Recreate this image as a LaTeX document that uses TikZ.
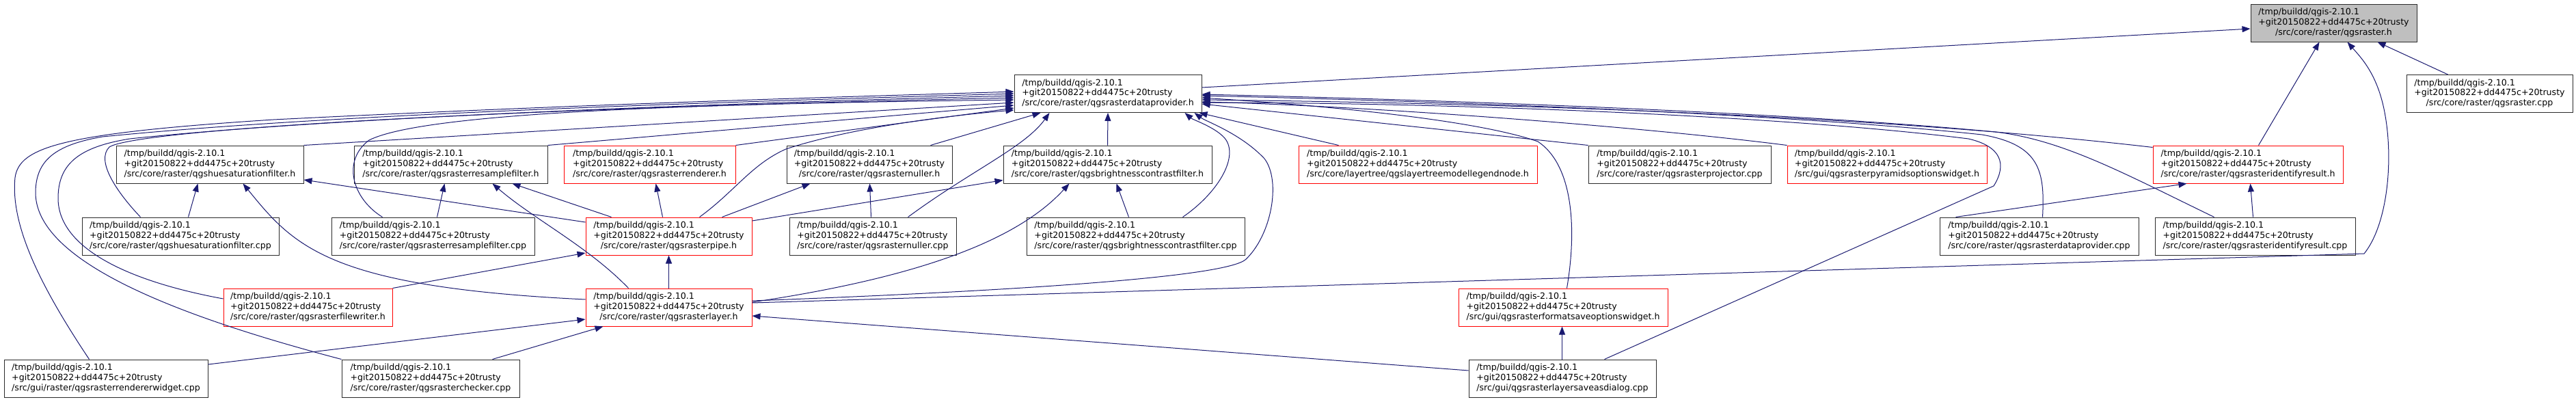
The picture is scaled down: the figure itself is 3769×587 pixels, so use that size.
\documentclass[tikz,border=0pt]{standalone}
\usepackage{fontspec}
\setmainfont{DejaVu Sans}
\usetikzlibrary{arrows.meta}
\definecolor{edgec}{HTML}{191970}
\definecolor{grayfill}{HTML}{BFBFBF}
\definecolor{boxline}{HTML}{2B2B2B}
\newcommand\lbl[1]{\begin{tabular}{@{}l@{}}/tmp/buildd/qgis-2.10.1\\+git20150822+dd4475c+20trusty\\\multicolumn{1}{@{}c@{}}{#1}\end{tabular}}
\tikzset{
  fbox/.style={draw=boxline, line width=1pt, minimum height=55pt, inner sep=0pt, fill=white, font=\fontsize{12.6pt}{14.6pt}\selectfont},
  rbox/.style={fbox, draw=red},
  gbox/.style={fbox, fill=grayfill},
  edge/.style={draw=edgec, line width=1pt, -{Triangle[length=12pt,width=9pt]}}
}
\begin{document}
\begin{tikzpicture}[x=1pt,y=-1pt]
\useasboundingbox (0,0) rectangle (3769,587);
% row A
\node[gbox, minimum width=243pt] (raster_h) at (3414.5,33.5) {\lbl{/src/core/raster/qgsraster.h}};
% row B
\node[fbox, minimum width=243pt] (rcpp) at (3642.5,137) {\lbl{/src/core/raster/qgsraster.cpp}};
\node[fbox, minimum width=274pt] (dp_h) at (1621,137) {\lbl{/src/core/raster/qgsrasterdataprovider.h}};
% row C
\node[fbox, minimum width=274pt] (hue_h) at (307,240.5) {\lbl{/src/core/raster/qgshuesaturationfilter.h}};
\node[fbox, minimum width=283pt] (resample_h) at (659.5,240.5) {\lbl{/src/core/raster/qgsrasterresamplefilter.h}};
\node[rbox, minimum width=251pt] (renderer_h) at (950.5,240.5) {\lbl{/src/core/raster/qgsrasterrenderer.h}};
\node[fbox, minimum width=242pt] (nuller_h) at (1272,240.5) {\lbl{/src/core/raster/qgsrasternuller.h}};
\node[fbox, minimum width=305pt] (bc_h) at (1620.5,240.5) {\lbl{/src/core/raster/qgsbrightnesscontrastfilter.h}};
\node[rbox, minimum width=349pt] (ltm_h) at (2074.5,240.5) {\lbl{/src/core/layertree/qgslayertreemodellegendnode.h}};
\node[fbox, minimum width=267pt] (proj_cpp) at (2457.5,240.5) {\lbl{/src/core/raster/qgsrasterprojector.cpp}};
\node[rbox, minimum width=292pt] (pyr_h) at (2761,240.5) {\lbl{/src/gui/qgsrasterpyramidsoptionswidget.h}};
\node[rbox, minimum width=278pt] (idr_h) at (3289,240.5) {\lbl{/src/core/raster/qgsrasteridentifyresult.h}};
% row D
\node[fbox, minimum width=288pt] (hue_cpp) at (264,345.5) {\lbl{/src/core/raster/qgshuesaturationfilter.cpp}};
\node[fbox, minimum width=297pt] (res_cpp) at (633.5,345.5) {\lbl{/src/core/raster/qgsrasterresamplefilter.cpp}};
\node[rbox, minimum width=243pt] (pipe_h) at (978.5,345.5) {\lbl{/src/core/raster/qgsrasterpipe.h}};
\node[fbox, minimum width=244pt] (nuller_cpp) at (1277,345.5) {\lbl{/src/core/raster/qgsrasternuller.cpp}};
\node[fbox, minimum width=319pt] (bc_cpp) at (1661.5,345.5) {\lbl{/src/core/raster/qgsbrightnesscontrastfilter.cpp}};
\node[fbox, minimum width=291pt] (dp_cpp) at (2983.5,345.5) {\lbl{/src/core/raster/qgsrasterdataprovider.cpp}};
\node[fbox, minimum width=293pt] (idr_cpp) at (3299.5,345.5) {\lbl{/src/core/raster/qgsrasteridentifyresult.cpp}};
% row E
\node[rbox, minimum width=247pt] (fw_h) at (450.5,449.5) {\lbl{/src/core/raster/qgsrasterfilewriter.h}};
\node[rbox, minimum width=243pt] (layer_h) at (978.5,449.5) {\lbl{/src/core/raster/qgsrasterlayer.h}};
\node[rbox, minimum width=306pt] (fso_h) at (2287,449.5) {\lbl{/src/gui/qgsrasterformatsaveoptionswidget.h}};
% row F
\node[fbox, minimum width=298pt] (rw_cpp) at (155,553.5) {\lbl{/src/gui/raster/qgsrasterrendererwidget.cpp}};
\node[fbox, minimum width=260pt] (chk_cpp) at (630,553.5) {\lbl{/src/core/raster/qgsrasterchecker.cpp}};
\node[fbox, minimum width=274pt] (lsa_cpp) at (2286,553.5) {\lbl{/src/gui/qgsrasterlayersaveasdialog.cpp}};

% edges into qgsraster.h
\draw[edge] ([yshift=9pt]dp_h.east) -- ([yshift=-8.5pt]raster_h.west);
\draw[edge] ([xshift=155pt]idr_h.north west) -- ([xshift=101pt]raster_h.south west);
\draw[edge] ([yshift=6.5pt]layer_h.east) -- (3459,371) .. controls (3492,330) and (3502,240) .. (3490,170) .. controls (3480,110) and (3455,85) .. ([xshift=142pt]raster_h.south west);
\draw[edge] ([xshift=61pt]rcpp.north west) -- ([xshift=186pt]raster_h.south west);

% edges into dataprovider.h, left side
\draw[edge] ([xshift=125pt]rw_cpp.north west) .. controls (60,420) and (15,330) .. (22,260) .. controls (28,215) and (90,195) .. (400,175) .. controls (900,150) and (1300,140) .. ([yshift=3pt]dp_h.west);
\draw[edge] (chk_cpp.north west) .. controls (250,460) and (50,380) .. (52,280) .. controls (53,235) and (80,212) .. (150,200) .. controls (500,165) and (1100,148) .. (dp_h.west);
\draw[edge] ([yshift=12.5pt]fw_h.west) .. controls (180,410) and (85,360) .. (85,290) .. controls (85,240) and (115,215) .. (190,203) .. controls (500,170) and (1100,150) .. ([yshift=-3pt]dp_h.west);
\draw[edge] ([xshift=86pt]hue_cpp.north west) .. controls (170,280) and (140,235) .. (160,215) .. controls (200,190) and (700,160) .. ([yshift=-6pt]dp_h.west);
\draw[edge] ([xshift=75pt]res_cpp.north west) .. controls (515,290) and (500,235) .. (540,205) .. controls (620,165) and (1000,152) .. ([yshift=-9pt]dp_h.west);
\draw[edge] (hue_h.north east) -- ([yshift=-13pt]dp_h.west);
\draw[edge] (resample_h.north east) -- ([yshift=-17pt]dp_h.west);
\draw[edge] (renderer_h.north east) -- ([yshift=-21pt]dp_h.west);
\draw[edge] ([xshift=167pt]pipe_h.north west) .. controls (1075,280) and (1100,240) .. (1150,218) .. controls (1250,185) and (1400,168) .. ([yshift=-24pt]dp_h.west);

% edges into dataprovider.h, bottom
\draw[edge] ([xshift=211pt]nuller_h.north west) -- ([xshift=39pt]dp_h.south west);
\draw[edge] ([xshift=174pt]nuller_cpp.north west) .. controls (1420,250) and (1500,215) .. ([xshift=52pt]dp_h.south west);
\draw[edge] (bc_h.north) -- (dp_h.south);
\draw[edge] ([xshift=229pt]bc_cpp.north west) .. controls (1785,280) and (1815,225) .. (1790,200) .. controls (1775,185) and (1745,175) .. ([xshift=-25pt]dp_h.south east);
\draw[edge] ([yshift=9.5pt]layer_h.east) .. controls (1500,425) and (1790,405) .. (1822,380) .. controls (1860,345) and (1875,265) .. (1850,232) .. controls (1815,195) and (1765,178) .. ([xshift=-11pt]dp_h.south east);
\draw[edge] ([xshift=59pt]ltm_h.north west) -- ([xshift=-4pt]dp_h.south east);

% edges into dataprovider.h, right side
\draw[edge] (proj_cpp.north west) -- ([yshift=-15pt]dp_h.east);
\draw[edge] (pyr_h.north west) .. controls (2400,185) and (2000,155) .. ([yshift=-12pt]dp_h.east);
\draw[edge] ([yshift=-3pt]idr_h.north west) .. controls (2800,175) and (2300,152) .. ([yshift=-9pt]dp_h.east);
\draw[edge] ([xshift=151pt]dp_cpp.north west) .. controls (2992,250) and (2985,212) .. (2900,197) .. controls (2600,165) and (2100,148) .. ([yshift=-3pt]dp_h.east);
\draw[edge] ([xshift=87pt]idr_cpp.north west) .. controls (3110,255) and (3020,205) .. (2920,193) .. controls (2600,163) and (2100,146) .. ([yshift=-1pt]dp_h.east);
\draw[edge] ([xshift=159pt]fso_h.north west) .. controls (2308,330) and (2300,240) .. (2250,207) .. controls (2150,172) and (1900,152) .. ([yshift=-6pt]dp_h.east);
\draw[edge] ([xshift=199pt]lsa_cpp.north west) -- (2917,272) .. controls (2937,240) and (2928,214) .. (2880,203) .. controls (2600,168) and (2100,150) .. ([yshift=-13pt]dp_h.east);

% other edges
\draw[edge] ([yshift=11.5pt]layer_h.west) .. controls (480,420) and (430,360) .. ([xshift=186pt]hue_h.south west);
\draw[edge] ([yshift=20.5pt]pipe_h.west) -- ([yshift=-22.5pt]hue_h.east);
\draw[edge] ([xshift=156pt]hue_cpp.north west) -- ([xshift=120pt]hue_h.south west);
\draw[edge] ([xshift=155pt]res_cpp.north west) -- ([xshift=133pt]resample_h.south west);
\draw[edge] ([xshift=38pt]pipe_h.north west) -- ([xshift=232pt]resample_h.south west);
\draw[edge] ([xshift=63pt]layer_h.north west) .. controls (860,360) and (780,320) .. ([xshift=203pt]resample_h.south west);
\draw[edge] ([xshift=113pt]pipe_h.north west) -- ([xshift=135pt]renderer_h.south west);
\draw[edge] ([xshift=200pt]pipe_h.north west) -- ([xshift=35pt]nuller_h.south west);
\draw[edge] ([xshift=120pt]nuller_cpp.north west) -- ([xshift=122pt]nuller_h.south west);
\draw[edge] ([yshift=22.5pt]pipe_h.east) -- ([yshift=5pt]bc_h.south west);
\draw[edge] ([yshift=7.5pt]layer_h.east) .. controls (1350,405) and (1490,350) .. ([xshift=97pt]bc_h.south west);
\draw[edge] ([xshift=150pt]bc_cpp.north west) -- ([xshift=166pt]bc_h.south west);
\draw[edge] ([xshift=24pt]dp_cpp.north west) -- ([xshift=50pt]idr_h.south west);
\draw[edge] ([xshift=144pt]idr_cpp.north west) -- ([xshift=143pt]idr_h.south west);
\draw[edge] (fw_h.north east) -- ([yshift=-24.5pt]pipe_h.west);
\draw[edge] (layer_h.north) -- (pipe_h.south);
\draw[edge] ([yshift=20.5pt]rw_cpp.east) -- ([yshift=-17.5pt]layer_h.west);
\draw[edge] ([xshift=221pt]chk_cpp.north west) -- ([xshift=26pt]layer_h.south west);
\draw[edge] ([yshift=11.5pt]lsa_cpp.west) -- ([yshift=-12.5pt]layer_h.east);
\draw[edge] ([xshift=137pt]lsa_cpp.north west) -- ([xshift=152pt]fso_h.south west);
\end{tikzpicture}
\end{document}
